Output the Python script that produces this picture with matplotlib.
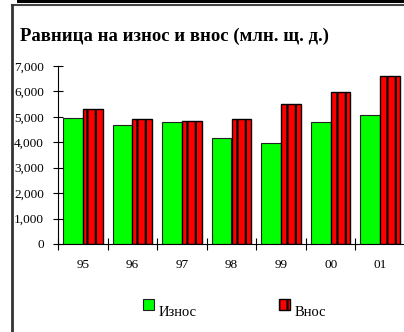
import numpy as np
import matplotlib.pyplot as plt
from matplotlib.patches import Rectangle
from matplotlib.lines import Line2D

plt.rcParams['font.family'] = ['Liberation Serif', 'DejaVu Serif']
plt.rcParams['hatch.linewidth'] = 1.6

years = ['95', '96', '97', '98', '99', '00', '01']
export_vals = [4950, 4670, 4800, 4180, 3980, 4790, 5060]
import_vals = [5300, 4900, 4840, 4930, 5500, 5970, 6600]
y_ticks = [0, 1000, 2000, 3000, 4000, 5000, 6000, 7000]
series_names = ['Износ', 'Внос']

W, H = 404, 332
fig = plt.figure(figsize=(W / 100, H / 100), dpi=100)

# outer frame with a dark shadow along the top
fig.add_artist(Rectangle((17 / W, 1 - 3 / H), 1, 3 / H, transform=fig.transFigure,
                         facecolor='black', edgecolor='none'))
fig.add_artist(Line2D([12 / W, 1], [1 - 4.5 / H] * 2, transform=fig.transFigure,
                      color='#444444', lw=1.5))
fig.add_artist(Line2D([12 / W] * 2, [0, 1 - 4.5 / H], transform=fig.transFigure,
                      color='#333333', lw=2))

fig.text(20 / W, 1 - 36 / H, 'Равница на износ и внос (млн. щ. д.)',
         fontsize=13.5, fontweight='bold', va='center', ha='left')

ax = fig.add_axes([58 / W, 88 / H, 347 / W, (244 - 66) / H])
x = np.arange(len(years))
bw = 0.4
green = dict(facecolor='#00ff00', edgecolor='#222222', lw=0.8)
red = dict(facecolor='#ff0000', edgecolor='black', lw=1.0, hatch='||')
ax.bar(x - bw / 2, export_vals, bw, **green)
ax.bar(x + bw / 2, import_vals, bw, **red)

ax.set_xlim(-0.5, len(years) - 0.5)
ax.set_ylim(0, 7000)
ax.set_yticks(y_ticks)
ax.set_yticklabels([f'{v:,}' for v in y_ticks])
ax.set_xticks(x)
ax.set_xticklabels(years)
ax.set_xticks(np.arange(len(years) + 1) - 0.5, minor=True)
ax.tick_params(axis='x', which='major', length=0, pad=11, labelsize=9.5)
ax.tick_params(axis='x', which='minor', direction='inout', length=8, width=0.8)
ax.tick_params(axis='y', direction='inout', length=7, width=0.8, labelsize=9.5, pad=6.5)
for s in ['top', 'right']:
    ax.spines[s].set_visible(False)
for s in ['left', 'bottom']:
    ax.spines[s].set_linewidth(0.8)

# legend: small swatches with the label sitting slightly lower
for x0, name, style in [(143, series_names[0], green), (279, series_names[1], red)]:
    fig.add_artist(Rectangle((x0 / W, 22 / H), 11 / W, 11 / H,
                             transform=fig.transFigure, **style))
    fig.text((x0 + 16) / W, 19 / H, name, fontsize=10.5, ha='left', va='center')

fig.savefig('out.png', dpi=100)
